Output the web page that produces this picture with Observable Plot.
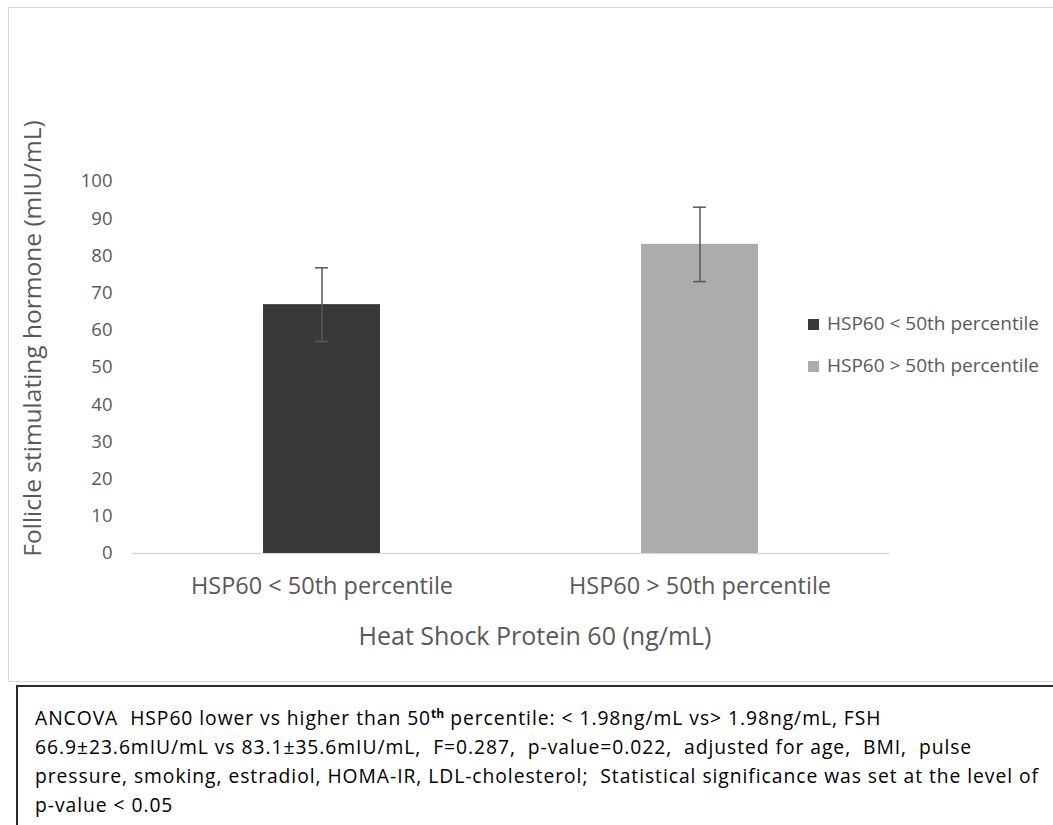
<!DOCTYPE html>
<html>
<head>
<meta charset="utf-8">
<script src="https://cdn.jsdelivr.net/npm/d3@7"></script>
<script src="https://cdn.jsdelivr.net/npm/@observablehq/plot@0.6"></script>
<style>
  html, body { margin: 0; padding: 0; background: #fff; width: 1053px; height: 825px; overflow: hidden; }
  #frame { position: absolute; left: 8px; top: 7px; width: 1100px; height: 675px; border: 1px solid #d9d9d9; box-sizing: border-box; }
  #chart { position: absolute; left: 0; top: 0; }
  #legend { position: absolute; left: 808px; top: 302px; font-family: "Open Sans", sans-serif; font-size: 19px; color: #595959; }
  #legend .item { display: flex; align-items: center; height: 42px; white-space: nowrap; }
  #legend .sw { width: 11px; height: 11px; margin-right: 8px; margin-top: 2px; }
  #caption { position: absolute; left: 16px; top: 685px; width: 1100px; height: 200px; border-top: 2px solid #2b2b2b; border-left: 2px solid #2b2b2b; box-sizing: border-box;
    font-family: "Open Sans", sans-serif; font-size: 19.3px; line-height: 29px; color: #000; padding: 16px 0 0 17px; letter-spacing: 0.95px; }
  #caption sup { font-size: 12px; font-weight: bold; line-height: 0; vertical-align: 7px; letter-spacing: 0; }
</style>
</head>
<body>
<div id="frame"></div>
<div id="chart"></div>
<div id="legend"></div>
<div id="caption"></div>
<script>
const categories = ["HSP60 < 50th percentile", "HSP60 > 50th percentile"];
const means = [66.9, 83.1];
const errors = [9.9, 10.0];
const colors = ["#3b3938", "#aeabab"];
const yTicks = [0, 10, 20, 30, 40, 50, 60, 70, 80, 90, 100];
const yLabel = "Follicle stimulating hormone (mIU/mL)";
const xLabel = "Heat Shock Protein 60 (ng/mL)";
const captionLines = [
  "ANCOVA&nbsp; HSP60 lower vs higher than 50<sup>th</sup> percentile: &lt; 1.98ng/mL vs&gt; 1.98ng/mL, FSH",
  "66.9±23.6mIU/mL vs 83.1±35.6mIU/mL,&nbsp; F=0.287,&nbsp; p-value=0.022,&nbsp; adjusted for age,&nbsp; BMI,&nbsp; pulse",
  "pressure, smoking, estradiol, HOMA-IR, LDL-cholesterol;&nbsp; Statistical significance was set at the level of",
  "p-value &lt; 0.05"
];

const data = categories.map((c, i) => ({cat: c, mean: means[i], lo: means[i] - errors[i], hi: means[i] + errors[i], color: colors[i]}));

const plot = Plot.plot({
  width: 1053,
  height: 683,
  marginLeft: 132,
  marginRight: 164,
  marginTop: 181,
  marginBottom: 130,
  style: {fontFamily: "'Open Sans', sans-serif", color: "#595959", background: "transparent", overflow: "visible"},
  x: {domain: categories, paddingInner: 0.69, paddingOuter: 0.345, label: null},
  y: {domain: [0, 100], label: null},
  marks: [
    Plot.axisY({ticks: yTicks, tickSize: 0, tickPadding: 20, fontSize: 18.5, fill: "#595959", label: null}),
    Plot.axisX({tickSize: 0, tickPadding: 24, fontSize: 23.5, fill: "#595959", label: null}),
    Plot.ruleY([0], {stroke: "#d9d9d9", strokeWidth: 1.5}),
    Plot.barY(data, {x: "cat", y: "mean", fill: "color"}),
    Plot.ruleX(data, {x: "cat", y1: "lo", y2: "hi", stroke: "#595959", strokeWidth: 1.5}),
    Plot.tickY(data, {x: "cat", y: "lo", stroke: "#595959", strokeWidth: 1.5, insetLeft: 52, insetRight: 52}),
    Plot.tickY(data, {x: "cat", y: "hi", stroke: "#595959", strokeWidth: 1.5, insetLeft: 52, insetRight: 52}),
    Plot.text([yLabel], {frameAnchor: "left", textAnchor: "middle", lineAnchor: "middle", rotate: -90, dx: -99, dy: -29, fontSize: 24.5, fill: "#595959"}),
    Plot.text([xLabel], {frameAnchor: "bottom", textAnchor: "middle", dx: 24, dy: 83, fontSize: 25, fill: "#595959", lineAnchor: "middle"})
  ]
});
document.getElementById("chart").appendChild(plot);

const legend = document.getElementById("legend");
categories.forEach((c, i) => {
  const item = document.createElement("div");
  item.className = "item";
  const sw = document.createElement("div");
  sw.className = "sw";
  sw.style.background = colors[i];
  const t = document.createElement("span");
  t.textContent = c;
  item.appendChild(sw);
  item.appendChild(t);
  legend.appendChild(item);
});

document.getElementById("caption").innerHTML = captionLines.map(l => `<div style="white-space:nowrap">${l}</div>`).join("");
</script>
</body>
</html>
